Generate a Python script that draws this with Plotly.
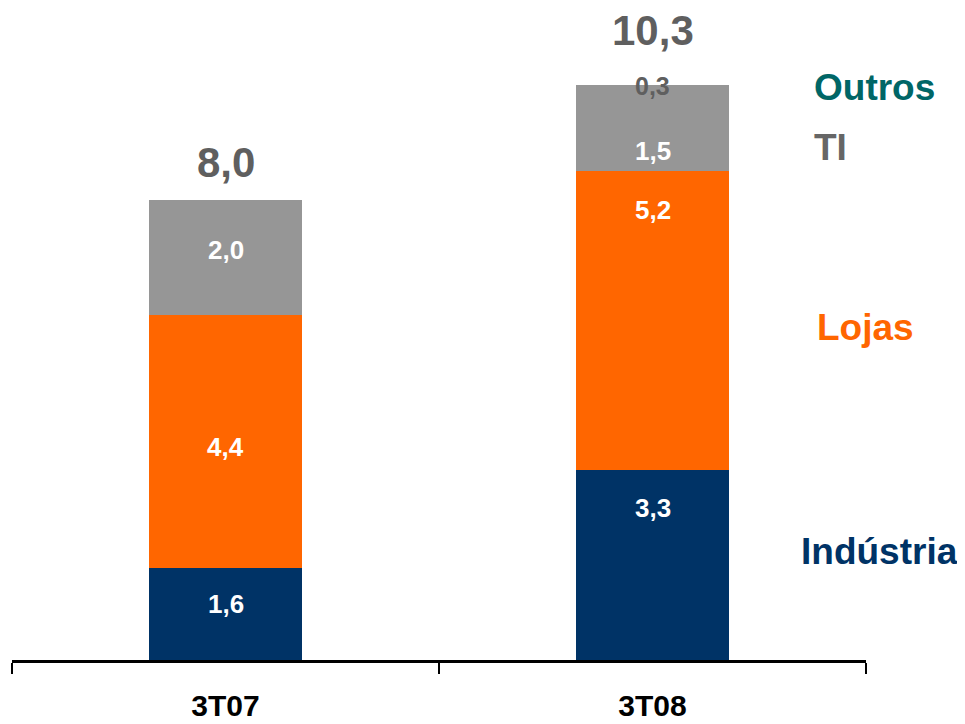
import plotly.graph_objects as go

categories = ["3T07", "3T08"]
industria = [1.6, 3.3]
lojas = [4.4, 5.2]
ti = [2.0, 1.5]
outros = [0.0, 0.3]
totals = [8.0, 10.3]
seg_labels = {
    "Indústria": ["1,6", "3,3"],
    "Lojas": ["4,4", "5,2"],
    "TI": ["2,0", "1,5"],
}
outros_labels = ["", "0,3"]
total_labels = ["8,0", "10,3"]

NAVY = "#003366"
ORANGE = "#FF6600"
GRAY = "#969696"
TEAL = "#006666"
DARKGRAY = "#5f5f5f"
FONT = "Liberation Sans"

fig = go.Figure()
series = [("Indústria", industria, NAVY), ("Lojas", lojas, ORANGE), ("TI", ti, GRAY)]
for name, vals, col in series:
    fig.add_trace(go.Bar(x=categories, y=vals, name=name, marker=dict(color=col, line=dict(width=0))))
fig.add_trace(go.Bar(x=categories, y=outros, name="Outros",
                     marker=dict(color="rgba(0,0,0,0)", line=dict(width=0))))

# label offsets in pixels below the top of each segment (style only)
offsets = {"Indústria": [36, 38], "Lojas": [132, 39], "TI": [50, 66]}

annotations = []
for i, cat in enumerate(categories):
    cum = 0.0
    for name, vals, col in series:
        cum += vals[i]
        annotations.append(dict(x=cat, y=cum, xref="x", yref="y", text=seg_labels[name][i],
                                showarrow=False, yanchor="middle", yshift=-offsets[name][i],
                                font=dict(family=FONT, size=26, color="white", weight="bold")))
    if outros_labels[i]:
        annotations.append(dict(x=cat, y=cum, xref="x", yref="y", text=outros_labels[i],
                                showarrow=False, yanchor="middle", yshift=-1,
                                font=dict(family=FONT, size=25, color=DARKGRAY, weight="bold")))
    annotations.append(dict(x=cat, y=totals[i], xref="x", yref="y", text=total_labels[i],
                            showarrow=False, yanchor="middle", yshift=37,
                            font=dict(family=FONT, size=42, color=DARKGRAY, weight="bold")))

side = [("Outros", TEAL, 0.937, 0.894), ("TI", "#666666", 0.937, 0.80),
        ("Lojas", ORANGE, 0.940, 0.519), ("Indústria", NAVY, 0.922, 0.169)]
for txt, col, px, py in side:
    annotations.append(dict(x=px, y=py, xref="paper", yref="paper", text=txt, showarrow=False,
                            xanchor="left", yanchor="middle",
                            font=dict(family=FONT, size=37, color=col, weight="bold")))

fig.update_layout(
    barmode="stack", bargap=0.64, width=965, height=724,
    margin=dict(l=4, r=107, t=12, b=72),
    plot_bgcolor="white", paper_bgcolor="white", showlegend=False,
    annotations=annotations,
    xaxis=dict(showline=True, linecolor="black", linewidth=3, ticks="outside", tickson="boundaries",
               ticklen=11, tickwidth=2, tickcolor="black", ticklabelstandoff=17, automargin=False,
               tickfont=dict(family=FONT, size=30, color="black", weight="bold"),
               showgrid=False, zeroline=False),
    yaxis=dict(range=[0, 11.13], visible=False, showgrid=False, zeroline=False, automargin=False),
)
fig.write_html("out.html")
